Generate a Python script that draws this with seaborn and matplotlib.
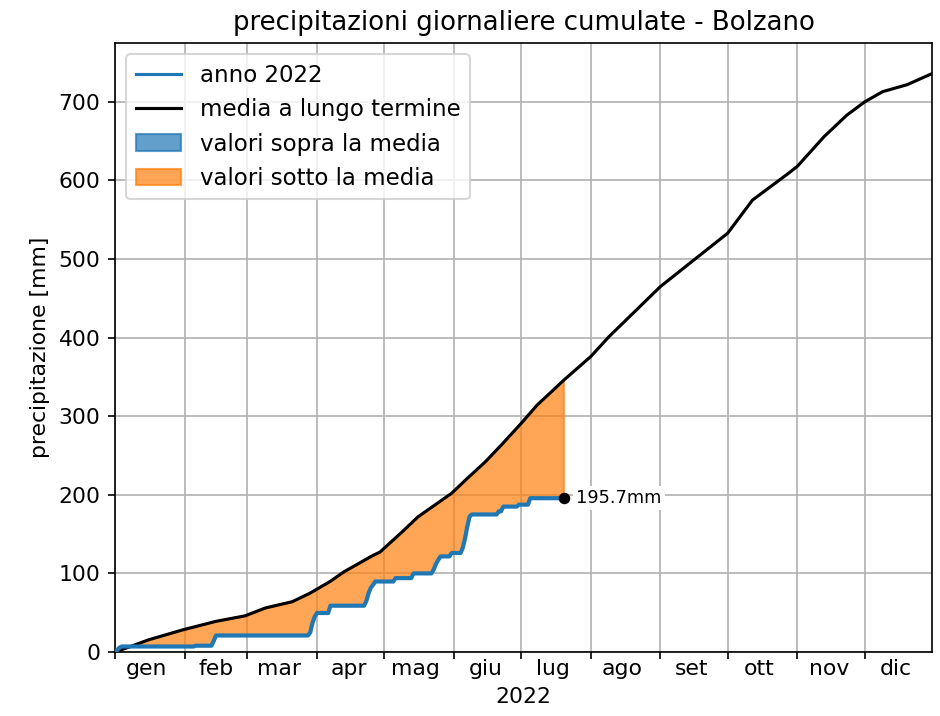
import numpy as np
import pandas as pd
import matplotlib
matplotlib.use("Agg")
import matplotlib.pyplot as plt
import matplotlib.dates as mdates
from matplotlib.lines import Line2D
from matplotlib.patches import Patch
import seaborn as sns

# ---- data ----
# 2022 daily precipitation events (date, mm)
rain_dates = ["2022-01-02", "2022-01-03", "2022-01-04", "2022-02-06", "2022-02-14", "2022-02-15",
              "2022-03-29", "2022-03-30", "2022-03-31", "2022-04-01", "2022-04-07",
              "2022-04-23", "2022-04-24", "2022-04-25", "2022-04-26", "2022-04-27",
              "2022-05-06", "2022-05-14", "2022-05-23", "2022-05-24", "2022-05-25", "2022-05-26",
              "2022-05-31", "2022-06-05", "2022-06-06", "2022-06-07", "2022-06-08", "2022-06-09",
              "2022-06-21", "2022-06-23", "2022-06-30", "2022-07-05"]
rain_mm = [2.5, 3.0, 1.5, 1.0, 6.0, 7.0,
           4.0, 12.0, 8.0, 4.6, 9.3,
           6.0, 10.0, 7.0, 3.6, 4.2,
           4.3, 6.0, 5.0, 7.0, 5.0, 4.6,
           4.4, 7.0, 12.0, 15.0, 12.6, 2.4,
           4.0, 6.0, 2.5, 8.2]
last_date = "2022-07-20"

# long-term mean cumulative precipitation (date, mm)
mean_dates = ["2022-01-01", "2022-01-07", "2022-01-16", "2022-01-31", "2022-02-15", "2022-02-28",
              "2022-03-09", "2022-03-21", "2022-03-29", "2022-04-07", "2022-04-13", "2022-04-26",
              "2022-04-29", "2022-05-09", "2022-05-16", "2022-05-31", "2022-06-07", "2022-06-15",
              "2022-06-22", "2022-07-01", "2022-07-08", "2022-07-20", "2022-08-01", "2022-08-09",
              "2022-09-01", "2022-09-16", "2022-10-01", "2022-10-12", "2022-10-28", "2022-11-01",
              "2022-11-13", "2022-11-23", "2022-12-01", "2022-12-09", "2022-12-20", "2022-12-31"]
mean_mm = [0, 6, 15.5, 28, 39, 46,
           56, 64, 75, 90, 102, 123,
           127, 153, 172, 202, 221, 242,
           263, 291, 314, 346, 376, 401,
           465, 499, 533, 575, 609, 618,
           656, 683, 700, 713, 722, 736]

month_labels = ["gen", "feb", "mar", "apr", "mag", "giu", "lug", "ago", "set", "ott", "nov", "dic"]

# ---- derived ----
days = pd.date_range("2022-01-01", last_date, freq="D")
daily = pd.Series(0.0, index=days)
for d, v in zip(rain_dates, rain_mm):
    daily[pd.Timestamp(d)] += v
df22 = pd.DataFrame({"data": days, "cum": daily.cumsum().values})
dfm = pd.DataFrame({"data": pd.to_datetime(mean_dates), "cum": mean_mm})

# ---- plot ----
plt.rcParams["font.size"] = 10.5
fig = plt.figure(figsize=(940 / 150, 716 / 150), dpi=150)
ax = fig.add_axes([0.1223, 0.0894, 0.9915 - 0.1223, 0.94 - 0.0894])

end = pd.Timestamp(last_date)
dfm_part = dfm[dfm["data"] <= end]
poly_x = list(mdates.date2num(dfm_part["data"])) + list(mdates.date2num(df22["data"]))[::-1]
poly_y = list(dfm_part["cum"]) + list(df22["cum"])[::-1]
ax.fill(poly_x, poly_y, color="C1", alpha=0.7, lw=1.0, zorder=2)

sns.lineplot(data=dfm, x="data", y="cum", color="black", lw=1.5, ax=ax, zorder=3)
sns.lineplot(data=df22, x="data", y="cum", color="C0", lw=2.0, ax=ax, zorder=4)

last_val = df22["cum"].iloc[-1]
ax.plot([df22["data"].iloc[-1]], [last_val], "o", color="black", ms=4.5, zorder=5)
ax.annotate(f"{last_val:.1f}mm", xy=(df22["data"].iloc[-1], last_val), xytext=(6, 0),
            textcoords="offset points", va="center", ha="left", fontsize=8.5,
            bbox=dict(facecolor="white", edgecolor="none", pad=1.5), zorder=6)

ax.set_xlim(pd.Timestamp("2022-01-01"), pd.Timestamp("2022-12-31"))
ax.set_ylim(0, 775)
ax.xaxis.set_major_locator(mdates.MonthLocator())
ax.xaxis.set_major_formatter(plt.NullFormatter())
mid = [pd.Timestamp(2022, m, 15) for m in range(1, 13)]
ax.set_xticks(mid, minor=True)
ax.set_xticklabels(month_labels, minor=True)
ax.tick_params(axis="x", which="minor", length=0)
ax.set_yticks(range(0, 701, 100))
ax.grid(True, which="major", color="#b0b0b0", lw=0.8)
ax.set_axisbelow(True)

ax.set_xlabel("2022")
ax.set_ylabel("precipitazione [mm]")
ax.set_title("precipitazioni giornaliere cumulate - Bolzano", fontsize=12.5)

handles = [Line2D([], [], color="C0", lw=1.5),
           Line2D([], [], color="black", lw=1.5),
           Patch(facecolor="C0", edgecolor="C0", alpha=0.7),
           Patch(facecolor="C1", edgecolor="C1", alpha=0.7)]
labels = ["anno 2022", "media a lungo termine", "valori sopra la media", "valori sotto la media"]
ax.legend(handles, labels, loc="upper left", fontsize=11)

fig.savefig("out.png", dpi=150)
